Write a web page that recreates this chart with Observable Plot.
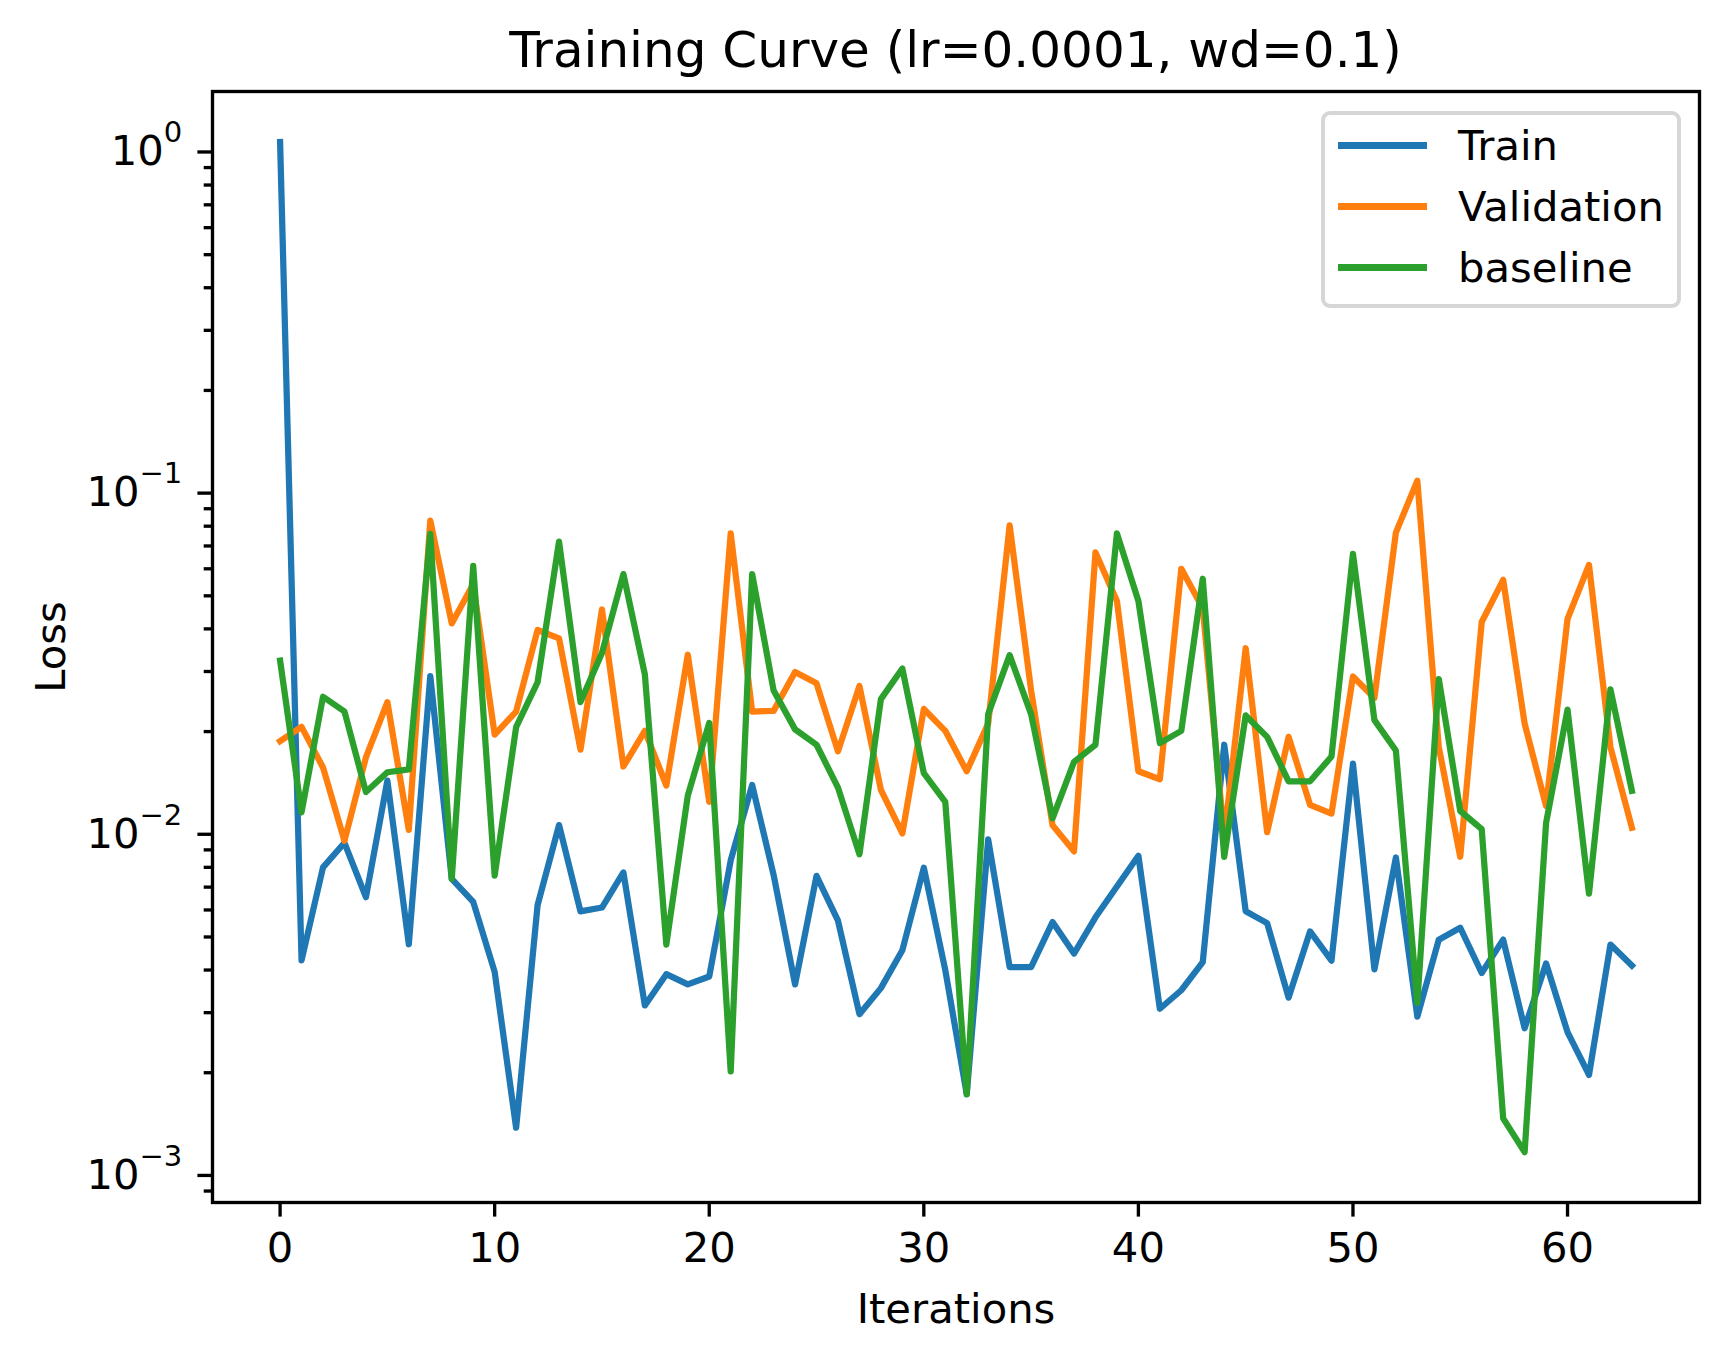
<!DOCTYPE html>
<html>
<head>
<meta charset="utf-8">
<script src="https://cdn.jsdelivr.net/npm/d3@7"></script>
<script src="https://cdn.jsdelivr.net/npm/@observablehq/plot@0.6"></script>
<style>
  body { margin: 0; background: #fff; font-family: "DejaVu Sans", sans-serif; }
  #wrap { position: relative; width: 1729px; height: 1357px; }
  #title {
    position: absolute; left: 212px; width: 1487px; top: 25px;
    font-size: 50px; line-height: 50px; text-align: center; color: #000;
  }
  #chart { position: absolute; left: 0; top: 80px; }
  #legend {
    position: absolute; left: 1321px; top: 111px; width: 352px;
    padding: 0 0 6px 0; border: 4.2px solid #d6d6d6; border-radius: 9px;
    background: rgba(255, 255, 255, 0.8);
  }
  .row { display: flex; align-items: center; height: 61px; }
  .handle { margin-left: 13px; width: 89px; height: 6.25px; }
  .label { margin-left: 31px; font-size: 41.7px; line-height: 61px; color: #000; }
</style>
</head>
<body>
<div id="wrap">
  <div id="title">Training Curve (lr=0.0001, wd=0.1)</div>
  <div id="chart"></div>
  <div id="legend"></div>
</div>
<script>
const seriesNames = ["Train", "Validation", "baseline"];
const seriesColors = ["#1f77b4", "#ff7f0e", "#2ca02c"];

const trainLoss = [
  1.07, 0.00427, 0.0080, 0.00944, 0.00654, 0.01436, 0.00476, 0.0291, 0.0074, 0.00634,
  0.00395, 0.00138, 0.0062, 0.01064, 0.00594, 0.0061, 0.00773, 0.00315, 0.00389, 0.00363,
  0.00383, 0.00838, 0.01394, 0.0076, 0.00363, 0.00755, 0.00558, 0.00297, 0.00354, 0.00457,
  0.00798, 0.0040, 0.00173, 0.00966, 0.00408, 0.00408, 0.00553, 0.00447, 0.00571, 0.00703,
  0.00865, 0.00308, 0.00349, 0.00422, 0.0183, 0.00595, 0.00549, 0.00332, 0.00519, 0.00426,
  0.0161, 0.00402, 0.00855, 0.00292, 0.00491, 0.00532, 0.00392, 0.00491, 0.00270, 0.00418,
  0.00263, 0.00197, 0.00475, 0.00412
];

const validationLoss = [
  0.01875, 0.02064, 0.0157, 0.00957, 0.0168, 0.0244, 0.0103, 0.0830, 0.0415, 0.0541,
  0.0196, 0.0229, 0.0397, 0.0375, 0.0177, 0.0456, 0.0158, 0.0201, 0.0139, 0.0336,
  0.01245, 0.0762, 0.0229, 0.0230, 0.0299, 0.0277, 0.0175, 0.0272, 0.0135, 0.01006,
  0.0233, 0.0201, 0.0153, 0.0211, 0.0804, 0.0264, 0.01062, 0.00891, 0.0670, 0.0483,
  0.0153, 0.0145, 0.0600, 0.0460, 0.0098, 0.0351, 0.01014, 0.0193, 0.0122, 0.0115,
  0.0290, 0.0251, 0.0766, 0.1088, 0.0180, 0.00859, 0.0419, 0.0557, 0.0211, 0.0121,
  0.0428, 0.0616, 0.0180, 0.01045
];

const baselineLoss = [
  0.0323, 0.0116, 0.0253, 0.0229, 0.0133, 0.0152, 0.0155, 0.0760, 0.0074, 0.0612,
  0.00757, 0.0206, 0.0279, 0.0721, 0.0244, 0.0340, 0.0579, 0.0294, 0.00475, 0.01298,
  0.0212, 0.00202, 0.0579, 0.0264, 0.0203, 0.0183, 0.0137, 0.00873, 0.0249, 0.0306,
  0.0151, 0.01245, 0.00173, 0.0225, 0.0335, 0.0225, 0.01114, 0.0163, 0.0183, 0.0762,
  0.0483, 0.0185, 0.0201, 0.0561, 0.00859, 0.0223, 0.0193, 0.0143, 0.0143, 0.0169,
  0.0664, 0.0216, 0.0176, 0.00321, 0.0285, 0.0117, 0.01036, 0.00147, 0.00117, 0.01079,
  0.0232, 0.0067, 0.0266, 0.0134
];

const xTicks = [0, 10, 20, 30, 40, 50, 60];
const yTicks = [1, 0.1, 0.01, 0.001];
const yDomain = [0.000833, 1.504];

const iterations = d3.range(trainLoss.length);
const allSeries = [trainLoss, validationLoss, baselineLoss];

// minor log ticks 2..9 in each decade, only those inside the axis
const minorTicks = [];
for (const dec of [0.0001, 0.001, 0.01, 0.1, 1]) {
  for (let m = 2; m <= 9; m++) {
    const v = m * dec;
    if (v >= yDomain[0] && v <= yDomain[1]) minorTicks.push(v);
  }
}

// "10^-1" style, turned into a real superscript after render
const fmtPow = (d) => "10^" + String(Math.round(Math.log10(d))).replace("-", "\u2212");

const lw = 6.25;
const axisW = 3.33;

const lineMarks = allSeries.map((values, i) =>
  Plot.lineY(values, {
    x: iterations,
    y: values,
    stroke: seriesColors[i],
    strokeWidth: lw,
    strokeLinejoin: "round",
    strokeLinecap: "square",
  })
);

const chart = Plot.plot({
  width: 1729,
  height: 1277,
  marginTop: 11,
  marginBottom: 155,
  marginLeft: 212,
  marginRight: 30,
  style: {
    fontFamily: "DejaVu Sans",
    fontSize: "41.7px",
    color: "#000",
    background: "#fff",
    overflow: "visible",
  },
  x: { domain: [-3.15, 66.15] },
  y: { type: "log", domain: yDomain },
  marks: [
    Plot.axisY(minorTicks, {
      tickSize: 8.3,
      strokeWidth: axisW,
      tickFormat: () => "",
      label: null,
    }),
    Plot.axisY(yTicks, {
      tickSize: 14.6,
      tickPadding: 15.7,
      strokeWidth: axisW,
      tickFormat: fmtPow,
      fontSize: 41.7,
      label: "Loss",
      labelAnchor: "center",
      labelArrow: "none",
      labelOffset: 177,
    }),
    Plot.axisX(xTicks, {
      tickSize: 14.6,
      tickPadding: 15,
      strokeWidth: axisW,
      tickFormat: (d) => String(d),
      fontSize: 41.7,
      label: "Iterations",
      labelAnchor: "center",
      labelArrow: "none",
      labelOffset: 120,
    }),
    ...lineMarks,
    Plot.frame({ stroke: "#000", strokeWidth: axisW }),
  ],
});

// exponent as a raised, smaller tspan
chart.querySelectorAll("text").forEach((t) => {
  const s = t.textContent;
  if (!s.startsWith("10^")) return;
  t.textContent = "10";
  const sp = document.createElementNS("http://www.w3.org/2000/svg", "tspan");
  sp.setAttribute("dy", "-23");
  sp.setAttribute("font-size", "29");
  sp.textContent = s.slice(3);
  t.appendChild(sp);
});

document.getElementById("chart").appendChild(chart);

// legend inside the axes, upper right
const legend = document.getElementById("legend");
seriesNames.forEach((name, i) => {
  const row = document.createElement("div");
  row.className = "row";
  const h = document.createElement("div");
  h.className = "handle";
  h.style.background = seriesColors[i];
  const t = document.createElement("div");
  t.className = "label";
  t.textContent = name;
  row.appendChild(h);
  row.appendChild(t);
  legend.appendChild(row);
});
</script>
</body>
</html>
